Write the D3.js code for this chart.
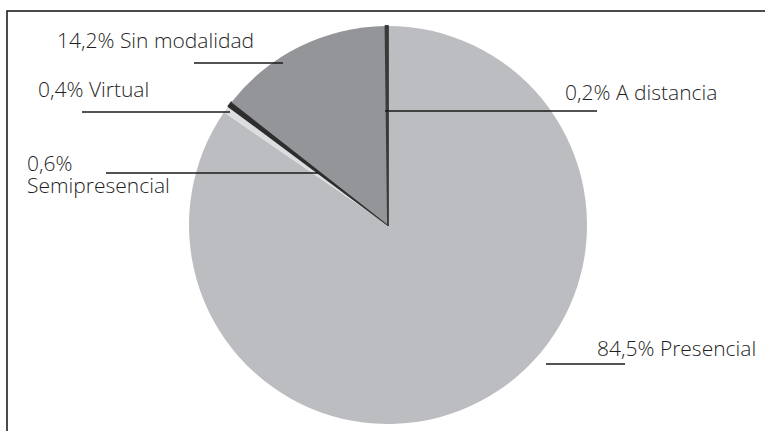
<!DOCTYPE html>
<html>
<head>
<meta charset="utf-8">
<script src="https://cdn.jsdelivr.net/npm/d3@7"></script>
<style>
  body { margin: 0; background: #fff; }
  text { font-family: "Open Sans", "Noto Sans", sans-serif; font-weight: 300; fill: #1f1f1f; }
</style>
</head>
<body>
<div id="chart"></div>
<script>
// modalidades, in drawing order (clockwise from 12 o'clock)
const categories = ["Presencial", "Semipresencial", "Virtual", "Sin modalidad", "A distancia"]
const values = [84.5, 0.6, 0.4, 14.2, 0.2]
const labels = ["84,5% Presencial", "0,6%|Semipresencial", "0,4% Virtual", "14,2% Sin modalidad", "0,2% A distancia"]
const colors = ["#bcbdc0", "#dcdddf", "#2e2e2e", "#939598", "#3a3a3a"]

// label layout: text pos, leader line x1,x2,y
const layout = {
    "Presencial":     { tx: 597, ty: 356, x1: 546, x2: 625, y: 364 },
    "Semipresencial": { tx: 27,  ty: 171, x1: 106, x2: 318, y: 173 },
    "Virtual":        { tx: 38,  ty: 97,  x1: 82,  x2: 230, y: 112 },
    "Sin modalidad":  { tx: 57,  ty: 48,  x1: 194, x2: 283, y: 63 },
    "A distancia":    { tx: 565, ty: 100, x1: 385, x2: 597, y: 111 }
}

let width = 765
let height = 431
let cx = 388, cy = 225
let radius = 199

var svg = d3.select("#chart")
    .append("svg")
    .attr("width", width)
    .attr("height", height)

// frame (right and bottom run off the picture)
svg.append("rect")
    .attr("x", 7).attr("y", 11)
    .attr("width", 800).attr("height", 440)
    .attr("fill", "none")
    .attr("stroke", "#111")
    .attr("stroke-width", 1.5)

var data = categories.map((c, i) => ({ key: c, value: values[i], label: labels[i], color: colors[i] }))

var pie = d3.pie().sort(null).value(d => d.value)
var arc_generator = d3.arc().innerRadius(0).outerRadius(radius)

var g = svg.append("g").attr("transform", "translate(" + cx + "," + cy + ")")

g.selectAll("path")
    .data(pie(data))
    .enter()
    .append("path")
    .attr("d", arc_generator)
    .attr("fill", d => d.data.color)
    // thin slices look a bit heavier in the original
    .attr("stroke", d => d.data.value < 0.5 ? d.data.color : "none")
    .attr("stroke-width", 1.8)
    .attr("stroke-linejoin", "round")

// leader lines
svg.selectAll("line.leader")
    .data(data)
    .enter()
    .append("line")
    .attr("class", "leader")
    .attr("x1", d => layout[d.key].x1)
    .attr("x2", d => layout[d.key].x2)
    .attr("y1", d => layout[d.key].y)
    .attr("y2", d => layout[d.key].y)
    .attr("stroke", "#1a1a1a")
    .attr("stroke-width", 1.3)

// labels (two-line label split on "|")
var txt = svg.selectAll("text.lbl")
    .data(data)
    .enter()
    .append("text")
    .attr("class", "lbl")
    .attr("x", d => layout[d.key].tx)
    .attr("y", d => layout[d.key].ty)
    .style("font-size", "21px")

txt.selectAll("tspan")
    .data(d => d.label.split("|").map(s => ({ s: s, x: layout[d.key].tx })))
    .enter()
    .append("tspan")
    .attr("x", d => d.x)
    .attr("dy", (d, i) => i == 0 ? 0 : 22)
    .text(d => d.s)
</script>
</body>
</html>
